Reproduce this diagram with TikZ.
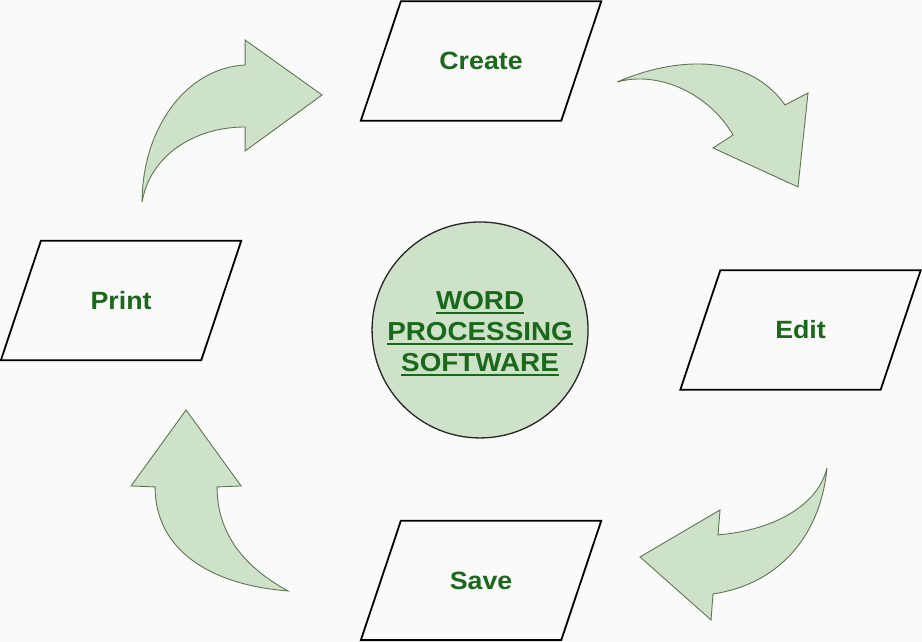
\documentclass[tikz,border=0pt]{standalone}
\usepackage{fontspec}
\setmainfont{Liberation Sans}
\newfontfamily\greenfont[FakeStretch=1.07]{Liberation Sans}
\definecolor{leaf}{RGB}{206,226,202}
\definecolor{leafline}{RGB}{96,118,80}
\definecolor{inkgreen}{RGB}{26,104,26}
\definecolor{paper}{RGB}{250,250,250}
\newcommand{\hubline}[1]{\vtop{\hbox{#1}\kern2.5pt\hrule height 2pt}}

\begin{document}
\begin{tikzpicture}[x=1pt,y=-1pt,
	io/.style={rectangle, minimum width=200pt, minimum height=119pt, inner sep=0pt,
		font=\greenfont\bfseries\fontsize{25}{30}\selectfont, text=inkgreen},
	swoosh/.style={fill=leaf, draw=leafline, line width=0.9pt, line join=miter}]
		\path[fill=paper] (0,0) rectangle (922,642);
		\node[io] (create) at (481,61) {Create};
		\node[io] (edit) at (800.5,330) {Edit};
		\node[io] (save) at (481,580.5) {Save};
		\node[io] (print) at (121,300.5) {Print};
		\foreach \n in {create,edit,save,print}
			\draw[line width=1.8pt] ([xshift=20pt]\n.north west) -- ([xshift=20pt]\n.north east)
				-- ([xshift=-20pt]\n.south east) -- ([xshift=-20pt]\n.south west) -- cycle;
		\node[circle, draw=black!85, line width=1.3pt, fill=leaf, minimum size=216pt, inner sep=0pt] (hub) at (480,330) {};
		\node[align=center, text=inkgreen, font=\greenfont\bfseries\fontsize{26}{31}\selectfont] (hubtext) at (480,334)
			{\hubline{WORD}\\\hubline{PROCESSING}\\\hubline{SOFTWARE}};
		\draw[swoosh] (142,202) .. controls (142,130) and (185,68) .. (245,65)
			-- (245,40) -- (322,95) -- (245,151) -- (245,127)
			.. controls (195,127) and (150,155) .. (142,202) -- cycle;
		\draw[swoosh] (617,82) .. controls (680,55) and (750,55) .. (785,105)
			-- (808,93) -- (798,187) -- (713,148) -- (733,135)
			.. controls (710,95) and (660,70) .. (617,82) -- cycle;
		\draw[swoosh] (827,468) .. controls (820,540) and (775,585) .. (713,594)
			-- (711,620) -- (640,557) -- (720,510) -- (718,535)
			.. controls (775,530) and (818,505) .. (827,468) -- cycle;
		\draw[swoosh] (288,591) .. controls (210,585) and (155,550) .. (155,487)
			-- (131,486) -- (186,410) -- (241,486) -- (217,487)
			.. controls (217,530) and (240,565) .. (288,591) -- cycle;
\end{tikzpicture}
\end{document}
